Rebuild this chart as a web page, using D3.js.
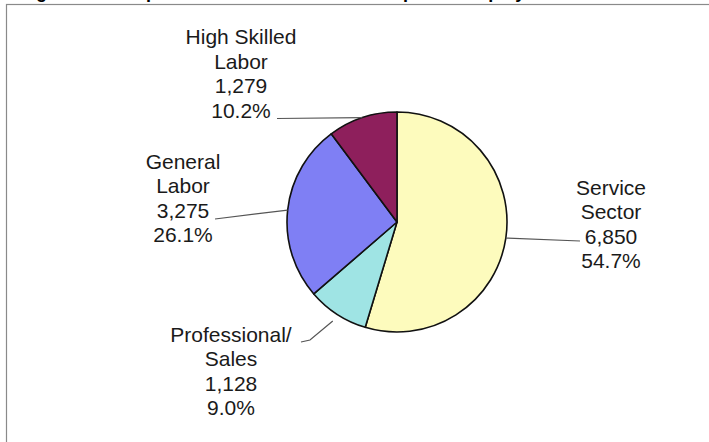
<!DOCTYPE html>
<html>
<head>
<meta charset="utf-8">
<script src="https://cdn.jsdelivr.net/npm/d3@7"></script>
<style>
  html, body { margin: 0; padding: 0; background: #ffffff; }
  svg { display: block; }
  text { font-family: Arial, "Liberation Sans", sans-serif; }
</style>
</head>
<body>
<svg id="chart" width="709" height="442"></svg>
<script>
// Employment by occupation group
const categories = ["Service Sector", "Professional/ Sales", "General Labor", "High Skilled Labor"];
const values = [6850, 1128, 3275, 1279];
const percentLabels = ["54.7%", "9.0%", "26.1%", "10.2%"];
const labelLines = [
  ["Service", "Sector"],
  ["Professional/", "Sales"],
  ["General", "Labor"],
  ["High Skilled", "Labor"]
];
const colors = ["#fdfbbd", "#9fe4e4", "#7f7ff4", "#8e1f5c"];

const svg = d3.select("#chart");
const W = 709, H = 442;

// Title (runs off the top of the chart area)
svg.append("text")
  .attr("x", 20).attr("y", -2)
  .attr("font-size", 18).attr("font-weight", "bold").attr("fill", "#000")
  .text("Figure 2: Occupational Distribution of Participants' Employment");

// Chart frame
svg.append("rect")
  .attr("x", 6.5).attr("y", 4.5)
  .attr("width", W).attr("height", H)
  .attr("fill", "#ffffff")
  .attr("stroke", "#8a8a8a").attr("stroke-width", 1.2);

const cx = 397, cy = 222, R = 110;
const g = svg.append("g").attr("transform", `translate(${cx},${cy})`);

const pie = d3.pie().sort(null).value(d => d);
const arcs = pie(values);
const arc = d3.arc().innerRadius(0).outerRadius(R);

g.selectAll("path.slice")
  .data(arcs)
  .join("path")
  .attr("class", "slice")
  .attr("d", arc)
  .attr("fill", (d, i) => colors[i])
  .attr("stroke", "#111")
  .attr("stroke-width", 1.6)
  .attr("stroke-linejoin", "round");

// Label block placement (centre x, first baseline) and leader line ends
const labelPos = [
  { x: 611, y: 194.5, end: [580, 241], rOff: 0 },
  { x: 231, y: 341.5, end: [301, 342], mid: [310, 340], rOff: 8 },
  { x: 183, y: 168.5, end: [215, 219], rOff: 0 },
  { x: 241, y: 44, end: [277, 118.5], rOff: 0 }
];
const lineH = 24.5;

const labels = svg.append("g");
arcs.forEach((a, i) => {
  const p = labelPos[i];
  const rows = labelLines[i].concat([d3.format(",")(values[i]), percentLabels[i]]);
  const t = labels.append("text")
    .attr("text-anchor", "middle")
    .attr("font-size", 21)
    .attr("fill", "#1a1a1a");
  rows.forEach((r, k) => {
    t.append("tspan").attr("x", p.x).attr("y", p.y + k * lineH).text(r);
  });

  // leader line from the rim at the slice's mid-angle
  const mid = (a.startAngle + a.endAngle) / 2;
  const rr = R + p.rOff;
  const sx = cx + Math.sin(mid) * rr, sy = cy - Math.cos(mid) * rr;
  const pts = [[sx, sy]];
  if (p.mid) pts.push(p.mid);
  pts.push(p.end);
  labels.append("path")
    .attr("d", d3.line()(pts))
    .attr("fill", "none")
    .attr("stroke", "#555")
    .attr("stroke-width", 1.2);
});
</script>
</body>
</html>
